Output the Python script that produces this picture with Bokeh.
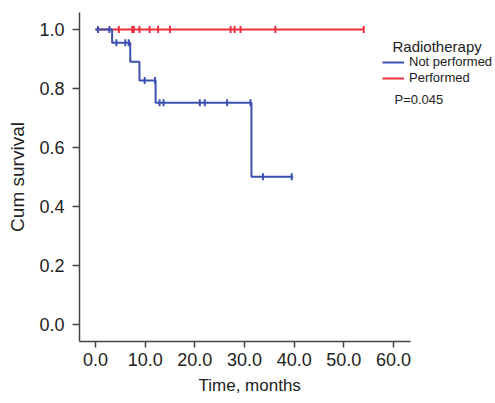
import math
from bokeh.plotting import figure
from bokeh.models import Range1d, FixedTicker, NumeralTickFormatter, Legend, LegendItem, Label, Title
from bokeh.embed import file_html
from bokeh.resources import INLINE

# Not performed (blue) Kaplan-Meier step curve
blue_t = [0.0, 3.35, 7.0, 8.85, 12.1, 31.4, 39.8]
blue_s = [1.0, 0.955, 0.891, 0.827, 0.752, 0.501, 0.501]
blue_cens_t = [0.5, 2.8, 4.2, 6.0, 6.7, 9.9, 12.0, 12.9, 13.7, 21.0, 22.0, 26.5, 31.2, 33.7, 39.5]
blue_cens_s = [1.0, 1.0, 0.955, 0.955, 0.955, 0.827, 0.827, 0.752, 0.752, 0.752, 0.752, 0.752, 0.752, 0.501, 0.501]

# Performed (red)
red_t = [0.0, 54.0]
red_s = [1.0, 1.0]
red_cens_t = [4.7, 7.4, 7.7, 8.85, 10.9, 12.6, 15.0, 27.2, 28.0, 29.2, 36.2, 54.0]
red_cens_s = [1.0] * len(red_cens_t)

x_ticks = [0, 10, 20, 30, 40, 50, 60]
y_ticks = [0.0, 0.2, 0.4, 0.6, 0.8, 1.0]

BLUE = "#3a51b0"
RED = "#ee2f3b"
FONT = "Liberation Sans"

X0, X1 = -3.22, 63.42          # visible axis extent
PX_PER_UNIT = 331 / (X1 - X0)
FRAME_W = 495 - 79
p = figure(width=495, height=403, output_backend="svg", toolbar_location=None,
           x_range=Range1d(X0, X0 + FRAME_W / PX_PER_UNIT), y_range=Range1d(-0.0576, 1.0576),
           min_border_left=79, min_border_right=0, min_border_top=12, min_border_bottom=62)
p.outline_line_color = None
p.xgrid.visible = False
p.ygrid.visible = False

red_line = p.step(red_t, red_s, mode="after", line_color=RED, line_width=2)
p.scatter(red_cens_t, red_cens_s, marker="dash", angle=math.pi / 2, size=7,
          line_color=RED, line_width=2)
blue_line = p.step(blue_t, blue_s, mode="after", line_color=BLUE, line_width=2)
p.scatter(blue_cens_t, blue_cens_s, marker="dash", angle=math.pi / 2, size=7,
          line_color=BLUE, line_width=2)

for ax in (p.xaxis[0], p.yaxis[0]):
    ax.axis_line_color = "#444444"
    ax.axis_line_width = 1.5
    ax.major_tick_line_color = "#444444"
    ax.major_tick_line_width = 1.5
    ax.minor_tick_line_color = None
    ax.major_tick_in = 0
    ax.major_label_text_font = FONT
    ax.major_label_text_font_size = "18px"
    ax.major_label_text_color = "#222222"
    ax.axis_label_text_font = FONT
    ax.axis_label_text_font_style = "normal"
    ax.axis_label_text_color = "#222222"
    ax.formatter = NumeralTickFormatter(format="0.0")

p.xaxis.bounds = (X0, X1)
p.xaxis.ticker = FixedTicker(ticks=x_ticks)
p.yaxis.ticker = FixedTicker(ticks=y_ticks)
p.xaxis.major_tick_out = 6
p.yaxis.major_tick_out = 7
p.xaxis.major_label_standoff = 5
p.yaxis.major_label_standoff = 8
p.yaxis.axis_label = "Cum survival"
p.yaxis.axis_label_text_font_size = "19px"
p.yaxis.axis_label_standoff = 8

# x-axis title, centred under the visible axis extent (frame extends further right)
p.add_layout(Title(text="Time, months", align="left", offset=119, standoff=10,
                   text_font=FONT, text_font_size="17px", text_font_style="normal",
                   text_color="#222222"), "below")

legend = Legend(items=[LegendItem(label="Not performed", renderers=[blue_line]),
                       LegendItem(label="Performed", renderers=[red_line])],
                location=(303, 256), orientation="vertical",
                border_line_color=None, background_fill_alpha=0,
                padding=0, margin=0, spacing=1,
                glyph_width=22, glyph_height=14, label_height=14,
                label_standoff=5, label_text_font=FONT,
                label_text_font_size="13px", label_text_color="#222222")
p.add_layout(legend, "center")

p.add_layout(Label(x=313, y=295.5, x_units="screen", y_units="screen", text="Radiotherapy",
                   text_font=FONT, text_font_size="15px", text_color="#222222",
                   text_baseline="alphabetic"))
p.add_layout(Label(x=315, y=242.5, x_units="screen", y_units="screen", text="P=0.045",
                   text_font=FONT, text_font_size="13px", text_color="#222222",
                   text_baseline="alphabetic"))

open("out.html", "w").write(file_html(p, INLINE))
